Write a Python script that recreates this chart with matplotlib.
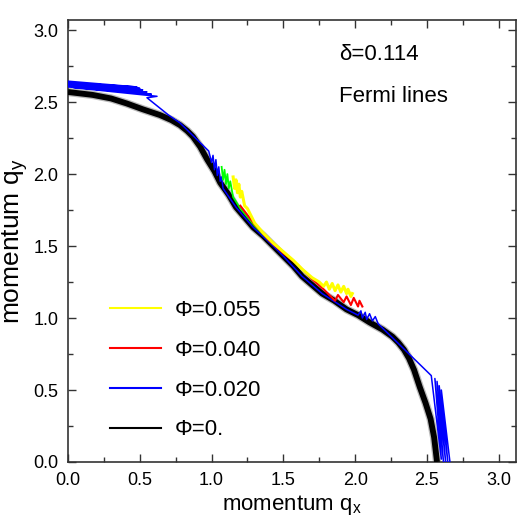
import matplotlib
matplotlib.use("Agg")
import matplotlib.pyplot as plt
from matplotlib.lines import Line2D
from matplotlib.ticker import MultipleLocator

plt.rcParams['font.family'] = ['Liberation Sans', 'DejaVu Sans']
plt.rcParams['mathtext.default'] = 'regular'

# ---- data ----
# Phi = 0 : Fermi line (thick black)
phi0_x = [0.00, 0.17, 0.30, 0.41, 0.52, 0.64, 0.72, 0.78, 0.83, 0.87, 0.92, 0.97,
          1.02, 1.06, 1.12, 1.17, 1.23, 1.29, 1.36, 1.43, 1.465,
          1.50, 1.57, 1.63, 1.70, 1.77, 1.855, 1.94, 2.02, 2.10, 2.19, 2.26,
          2.30, 2.34, 2.375, 2.41, 2.45, 2.49, 2.525, 2.55, 2.57]
phi0_y = [2.57, 2.55, 2.525, 2.49, 2.45, 2.41, 2.375, 2.34, 2.30, 2.26, 2.19, 2.10,
          2.02, 1.94, 1.855, 1.77, 1.70, 1.63, 1.57, 1.50, 1.465,
          1.43, 1.36, 1.29, 1.23, 1.17, 1.12, 1.06, 1.02, 0.97, 0.92, 0.87,
          0.83, 0.78, 0.72, 0.64, 0.52, 0.41, 0.30, 0.17, 0.00]

# Phi = 0.020 (blue)
phi020_x = [0.00, 0.48, 0.00, 0.50, 0.00, 0.52, 0.00, 0.55, 0.00, 0.58, 0.04, 0.62, 0.55,
            0.70, 0.78, 0.98, 1.00, 1.01, 1.02, 1.03, 1.04, 1.05, 1.06, 1.07, 1.08,
            1.17, 1.29, 1.43, 1.50, 1.63, 1.77, 1.94,
            2.02, 2.04, 2.05, 2.07, 2.08, 2.10, 2.12, 2.14, 2.16,
            2.53, 2.60, 2.555, 2.615, 2.57, 2.63, 2.585, 2.645, 2.60, 2.66]
phi020_y = [2.645, 2.605, 2.635, 2.595, 2.625, 2.585, 2.615, 2.57, 2.605, 2.555, 2.60, 2.54, 2.53,
            2.41, 2.355, 2.16, 2.08, 2.13, 2.03, 2.10, 1.99, 2.05, 1.95, 1.98, 1.90,
            1.77, 1.63, 1.50, 1.43, 1.29, 1.17, 1.06,
            1.02, 1.05, 1.00, 1.04, 0.99, 1.03, 0.98, 1.01, 0.96,
            0.60, 0.02, 0.58, 0.00, 0.56, 0.00, 0.53, 0.00, 0.50, 0.00]

# unlabelled green curve
green_x = [1.07, 1.08, 1.09, 1.10, 1.11, 1.12, 1.13, 1.15, 1.20, 1.30, 1.40, 1.46]
green_y = [2.05, 1.96, 2.03, 1.93, 2.00, 1.90, 1.95, 1.84, 1.76, 1.64, 1.54, 1.49]

# Phi = 0.040 (red)
phi040_x = [1.20, 1.30, 1.40, 1.50, 1.60, 1.70, 1.78, 1.82, 1.86, 1.88, 1.92, 1.94,
            1.97, 1.99, 2.02, 2.03, 2.05]
phi040_y = [1.78, 1.65, 1.54, 1.45, 1.37, 1.27, 1.20, 1.16, 1.12, 1.16, 1.11, 1.15,
            1.09, 1.14, 1.08, 1.12, 1.08]

# Phi = 0.055 (yellow)
phi055_x = [1.15, 1.16, 1.17, 1.18, 1.19, 1.20, 1.21, 1.23, 1.25, 1.30, 1.36, 1.43,
            1.50, 1.57, 1.63, 1.70, 1.75, 1.78, 1.80, 1.82, 1.84, 1.86, 1.88, 1.90,
            1.92, 1.94, 1.95, 1.97, 1.98]
phi055_y = [1.98, 1.90, 1.96, 1.87, 1.93, 1.84, 1.88, 1.78, 1.76, 1.66, 1.59, 1.52,
            1.46, 1.40, 1.34, 1.28, 1.25, 1.22, 1.25, 1.20, 1.24, 1.19, 1.23, 1.18,
            1.22, 1.17, 1.20, 1.15, 1.17]

legend_labels = ['\u03a6=0.055', '\u03a6=0.040', '\u03a6=0.020', '\u03a6=0.']
legend_colors = ['#ffff00', '#ff0000', '#0000ff', '#000000']

# ---- figure ----
fig = plt.figure(figsize=(5.17, 5.18), dpi=100)
ax = fig.add_axes([68/517, 56/518, 448/517, 442/518])

ax.plot(phi0_x, phi0_y, color='#777777', lw=6.0, alpha=0.5, solid_capstyle='butt', zorder=2)
ax.plot(phi0_x, phi0_y, color='black', lw=4.2, solid_capstyle='butt', zorder=3)
ax.plot(phi020_x, phi020_y, color='#0000ff', lw=1.1, zorder=4)
ax.plot(green_x, green_y, color='#00ff00', lw=1.3, zorder=4)
ax.plot(phi040_x, phi040_y, color='#ff0000', lw=1.5, zorder=5)
ax.plot(phi055_x, phi055_y, color='#ffff00', lw=2.2, zorder=6)

ax.set_xlim(0, 3.12)
ax.set_ylim(0, 3.07)
ax.xaxis.set_major_locator(MultipleLocator(0.5))
ax.xaxis.set_minor_locator(MultipleLocator(0.25))
ax.yaxis.set_major_locator(MultipleLocator(0.5))
ax.yaxis.set_minor_locator(MultipleLocator(0.25))
ax.xaxis.set_major_formatter(matplotlib.ticker.FormatStrFormatter('%.1f'))
ax.yaxis.set_major_formatter(matplotlib.ticker.FormatStrFormatter('%.1f'))
ax.tick_params(which='both', direction='in', top=True, right=True, color='#333333')
ax.tick_params(which='major', length=6, width=1)
ax.tick_params(which='minor', length=3.5, width=1)
ax.tick_params(axis='x', labelsize=13, pad=7)
ax.tick_params(axis='y', labelsize=13, pad=7)
for s in ax.spines.values():
    s.set_color('#333333')
    s.set_linewidth(1.2)

ax.set_xlabel('momentum q$_\\mathregular{x}$', fontsize=16, labelpad=3)
ax.set_ylabel('momentum q$_\\mathregular{y}$', fontsize=19, labelpad=2)

ax.text(1.89, 2.79, '\u03b4=0.114', fontsize=16, va='baseline', ha='left')
ax.text(1.89, 2.50, 'Fermi lines', fontsize=16, va='baseline', ha='left')

handles = [Line2D([], [], color=c, lw=1.5) for c in legend_colors]
ax.legend(handles, legend_labels, loc='upper left', bbox_to_anchor=(0.094, 0.367),
          frameon=False, fontsize=16, handlelength=2.3, handletextpad=0.6,
          labelspacing=0.85, borderpad=0, borderaxespad=0)

fig.savefig('out.png', dpi=100)
